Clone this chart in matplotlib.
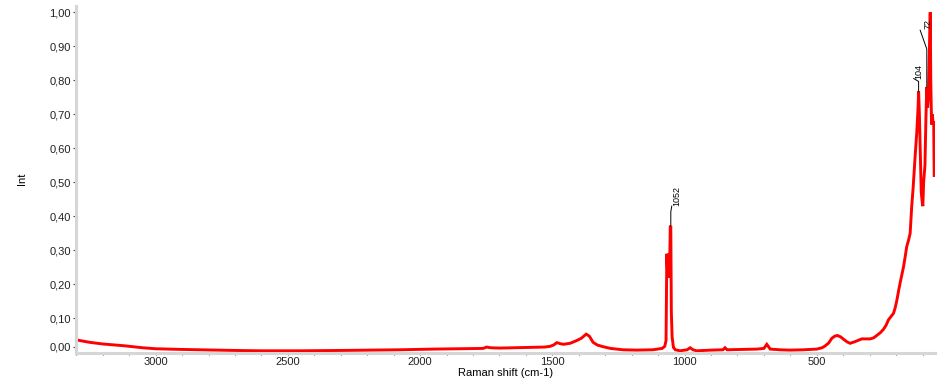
import numpy as np
import matplotlib
matplotlib.use('Agg')
import matplotlib.pyplot as plt
import matplotlib.transforms as mtransforms
from matplotlib.ticker import FixedLocator, MultipleLocator, FuncFormatter

# Raman spectrum (wavenumber cm-1, normalised intensity)
shift = [3300, 3250, 3200, 3122, 3050, 3000, 2900, 2832, 2700, 2600, 2454, 2300,
         2200, 2075, 1950, 1850, 1762, 1748, 1735, 1700, 1650, 1584, 1530, 1509,
         1495, 1483, 1470, 1459, 1433, 1408, 1390, 1372, 1360, 1346, 1330, 1308,
         1280, 1233, 1180, 1120, 1085, 1075, 1070, 1067, 1064, 1061, 1057, 1054,
         1052, 1050, 1047, 1042, 1035, 1017, 990, 979, 968, 954, 900, 855, 847,
         839, 790, 727, 700, 689, 680, 676, 640, 601, 550, 500, 480, 469, 455,
         443, 432, 422, 410, 399, 385, 374, 355, 340, 330, 315, 298, 285, 272,
         260, 248, 238, 229, 220, 210, 204, 197, 191, 185, 178, 172, 166, 160,
         153, 147, 141, 136, 132, 127, 122, 117, 115, 112, 109, 105, 101, 99, 96,
         91, 87, 84, 81, 78, 74, 71, 69, 66, 63, 60, 58, 56]
intensity = [0.037, 0.030, 0.025, 0.020, 0.014, 0.011, 0.009, 0.008, 0.006, 0.005,
             0.005, 0.006, 0.007, 0.008, 0.010, 0.011, 0.012, 0.016, 0.014, 0.013,
             0.014, 0.015, 0.016, 0.018, 0.022, 0.029, 0.026, 0.024, 0.027, 0.035,
             0.042, 0.054, 0.048, 0.030, 0.022, 0.017, 0.012, 0.008, 0.007, 0.008,
             0.012, 0.018, 0.035, 0.290, 0.230, 0.290, 0.220, 0.370, 0.372, 0.120,
             0.045, 0.015, 0.008, 0.005, 0.008, 0.014, 0.008, 0.005, 0.007, 0.008,
             0.014, 0.008, 0.009, 0.010, 0.012, 0.024, 0.014, 0.010, 0.008, 0.007,
             0.008, 0.010, 0.014, 0.019, 0.028, 0.042, 0.048, 0.050, 0.046, 0.039,
             0.031, 0.027, 0.032, 0.037, 0.040, 0.040, 0.040, 0.043, 0.051, 0.058,
             0.068, 0.080, 0.096, 0.105, 0.115, 0.130, 0.154, 0.180, 0.204, 0.230,
             0.252, 0.280, 0.311, 0.330, 0.350, 0.430, 0.480, 0.530, 0.590, 0.645,
             0.720, 0.767, 0.700, 0.600, 0.470, 0.440, 0.430, 0.500, 0.550, 0.700,
             0.780, 0.720, 0.750, 0.900, 1.000, 0.800, 0.670, 0.700, 0.670, 0.680,
             0.520]

# labelled peaks: position in the plot, label text
peak_pos = [1052, 115, 84]
peak_labels = ['1052', '104', '72']
# leader shape (pixels): vertical rise, end offset x, end offset y, text offset x, text offset y
leaders = [(14, 1, 20, 6.5, 20), (10, -5, 13, 0.7, 12), (38, -6.7, 57, 1.3, 58)]

plt.rcParams['font.family'] = ['Liberation Sans', 'DejaVu Sans']
plt.rcParams['font.size'] = 8

fig = plt.figure(figsize=(9.48, 3.82), dpi=100)
W, H = 948, 382
ax = fig.add_axes([75.5 / W, 29.5 / H, (935 - 75.5) / W, (352.5 - 5.7) / H])

ax.plot(shift, intensity, color='#ff0000', lw=2.1, solid_joinstyle='miter')

ax.set_xlim(3303, 53)
ax.set_ylim(0, 1.019)

for side in ['top', 'right']:
    ax.spines[side].set_visible(False)
for side in ['left', 'bottom']:
    ax.spines[side].set_color('#d6d6d6')
    ax.spines[side].set_linewidth(2.2)

ax.xaxis.set_major_locator(MultipleLocator(500))
ax.xaxis.set_minor_locator(MultipleLocator(100))
ax.yaxis.set_major_locator(FixedLocator(np.round(np.arange(0, 1.01, 0.1), 2)))
ax.yaxis.set_minor_locator(MultipleLocator(0.025))
ax.yaxis.set_major_formatter(FuncFormatter(lambda v, p: f'{v:.2f}'.replace('.', ',')))
ax.xaxis.set_major_formatter(FuncFormatter(lambda v, p: f'{v:.0f}'))

ax.tick_params(axis='x', which='both', direction='out', length=1.5, width=0.8,
               color='#555555', pad=1.5, labelcolor='#222222')
ax.tick_params(axis='y', which='major', direction='out', length=2.5, width=0.8,
               color='#444444', pad=1, labelcolor='#222222')
ax.tick_params(axis='y', which='minor', direction='in', length=1, width=1.2,
               color='#555555')

ax.set_xlabel('Raman shift (cm-1)', va='center')
ax.xaxis.set_label_coords(0.5, -(373.3 - 352.5) / 346.8)
ax.set_ylabel('Int', va='center', ha='center')
ax.yaxis.set_label_coords((22 - 75.5) / 859.5, 0.5)

# the 0,00 tick sits a bit higher than the real zero in the original software
fig.canvas.draw()
t0 = ax.yaxis.get_major_ticks()[0]
off = mtransforms.ScaledTranslation(0, 6 / 100, fig.dpi_scale_trans)
t0.label1.set_transform(t0.label1.get_transform() + off)
t0.tick1line.set_transform(t0.tick1line.get_transform() + off)

# peak labels with leader lines
for pos, lab, (rise, ex, ey, tx, ty) in zip(peak_pos, peak_labels, leaders):
    py = intensity[shift.index(pos)]
    angA = np.degrees(np.arctan2(rise - ey, -ex)) if ex != 0 else 90
    ax.annotate('', xy=(pos, py), xytext=(ex, ey), textcoords='offset pixels',
                arrowprops=dict(arrowstyle='-', color='black', lw=0.7,
                                shrinkA=0, shrinkB=0,
                                connectionstyle=f'angle,angleA={angA:.1f},angleB=90,rad=0'))
    ax.annotate(lab, xy=(pos, py), xytext=(tx, ty), textcoords='offset pixels',
                rotation=90, ha='center', va='bottom', fontsize=6.5)

fig.savefig('out.png', dpi=100)
